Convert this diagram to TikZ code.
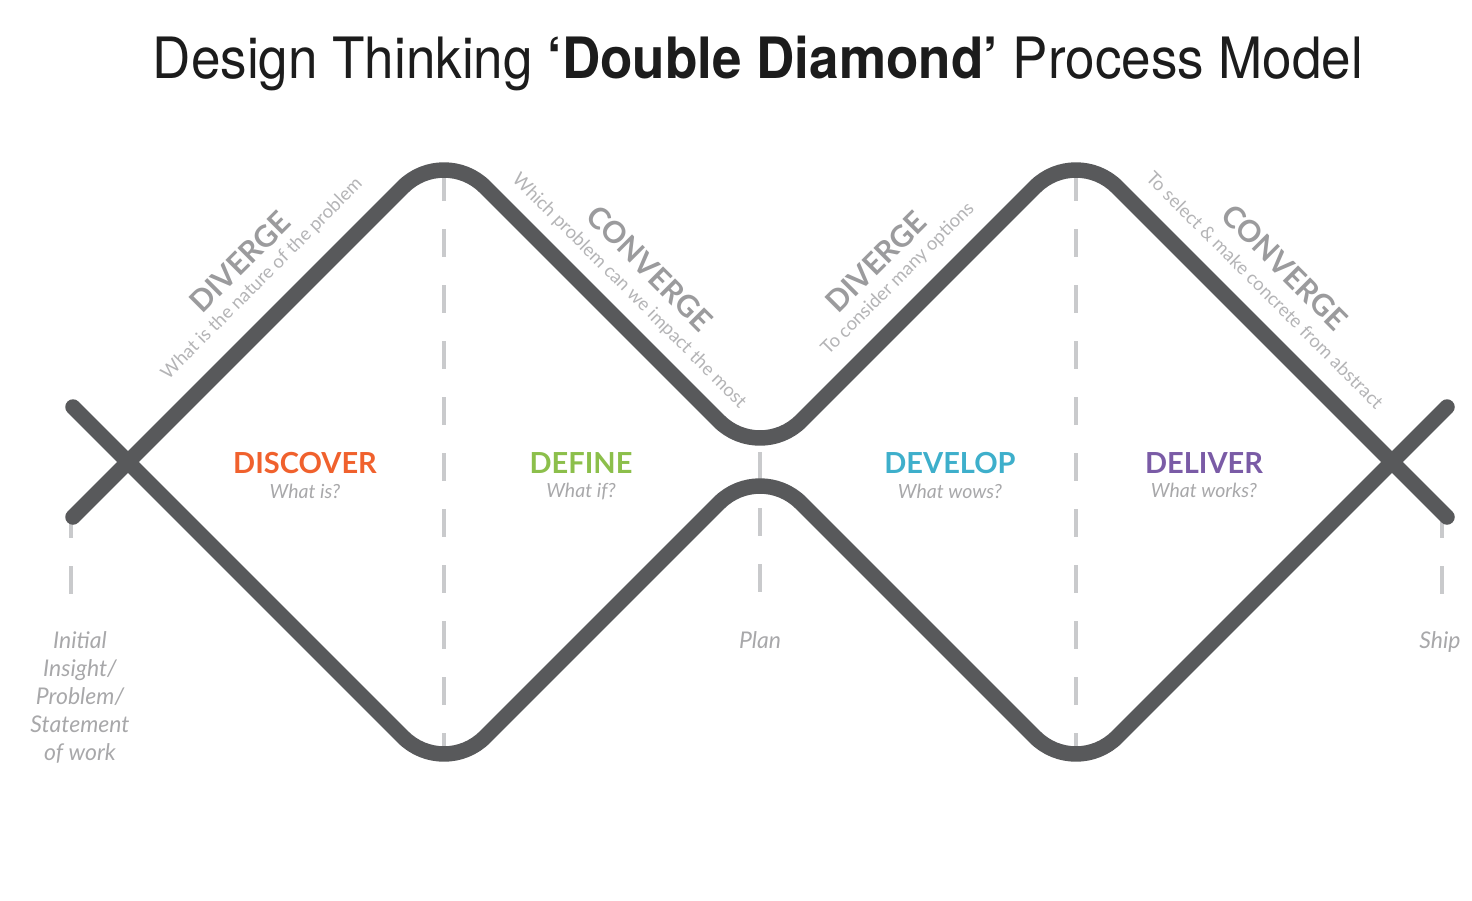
\documentclass[tikz,border=0pt]{standalone}
\usepackage{fontspec}
\setmainfont{TeX Gyre Heros}
\newfontfamily\avfont{Lato}
\usetikzlibrary{positioning}

\definecolor{bandgray}{HTML}{58595B}
\definecolor{guidegray}{HTML}{C9CACC}
\definecolor{headgray}{HTML}{9B9B9D}
\definecolor{subgray}{HTML}{B4B4B6}
\definecolor{askgray}{HTML}{A8A8AA}
\definecolor{titleblack}{HTML}{1C1C1C}
\definecolor{discoverc}{HTML}{F0612D}
\definecolor{definec}{HTML}{8CBF4B}
\definecolor{developc}{HTML}{3EAFCB}
\definecolor{deliverc}{HTML}{7A5BA6}

\begin{document}
\begin{tikzpicture}[x=1pt, y=-1pt,
  band/.style={draw=bandgray, line width=15.5pt, rounded corners=58pt, line cap=round},
  guide/.style={draw=guidegray, line width=4pt, dash pattern=on 28pt off 28pt},
  headtxt/.style={font=\avfont\bfseries\fontsize{30}{30}\selectfont, text=headgray, inner sep=0pt},
  subtxt/.style={font=\avfont\fontsize{18.5}{18.5}\selectfont, text=subgray, inner sep=0pt},
  phase/.style={font=\avfont\bfseries\fontsize{29}{29}\selectfont, inner sep=0pt, anchor=base},
  ask/.style={font=\avfont\itshape\fontsize{19.5}{19.5}\selectfont, text=askgray, inner sep=0pt},
  milestone/.style={font=\avfont\itshape\fontsize{23}{28}\selectfont, text=askgray,
    inner sep=0pt, align=center, anchor=base},
]
  \useasboundingbox (0,0) rectangle (1472,900);

  \node[font=\fontsize{57}{68}\selectfont, text=titleblack, anchor=base, xscale=0.93] (title) at (758,78)
    {Design Thinking \textbf{‘Double Diamond’} Process Model};

  % corners of the two diamonds
  \coordinate (lt) at (73,407);
  \coordinate (lb) at (73,517);
  \coordinate (t1) at (444,146);
  \coordinate (b1) at (444,778);
  \coordinate (mid) at (760,462);
  \coordinate (t2) at (1076,146);
  \coordinate (b2) at (1076,778);
  \coordinate (rt) at (1447,407);
  \coordinate (rb) at (1447,517);

  \draw[guide] ([yshift=-27pt]t1) -- ([yshift=17pt]b1);
  \draw[guide] ([yshift=-27pt]t2) -- ([yshift=17pt]b2);
  \draw[guide] ([xshift=-2pt,yshift=7pt]lb) -- ([xshift=-2pt,yshift=-77pt]lb);
  \draw[guide] ([yshift=10pt]mid) -- ([yshift=-130pt]mid);
  \draw[guide] ([xshift=-5pt,yshift=7pt]rb) -- ([xshift=-5pt,yshift=-77pt]rb);

  \draw[band] (lb) -- (t1) -- (mid) -- (t2) -- (rb);
  \draw[band] (lt) -- (b1) -- (mid) -- (b2) -- (rt);

  \node[headtxt, rotate=45]  (div1)  at (240,262)  {DIVERGE};
  \node[subtxt, rotate=45]   (div1q) at (262,279)  {What is the nature of the problem};
  \node[headtxt, rotate=-45] (con1)  at (650,268)  {CONVERGE};
  \node[subtxt, rotate=-45]  (con1q) at (629,291)  {Which problem can we impact the most};
  \node[headtxt, rotate=45]  (div2)  at (876,262)  {DIVERGE};
  \node[subtxt, rotate=45]   (div2q) at (898,279)  {To consider many options};
  \node[headtxt, rotate=-45] (con2)  at (1285,267) {CONVERGE};
  \node[subtxt, rotate=-45]  (con2q) at (1265,290) {To select \& make concrete from abstract};

  \node[phase, text=discoverc] (discover) at (305,473)  {DISCOVER};
  \node[ask, below=10pt of discover] {What is?};
  \node[phase, text=definec]   (define)   at (581,473)  {DEFINE};
  \node[ask, below=10pt of define] {What if?};
  \node[phase, text=developc]  (develop)  at (950,473)  {DEVELOP};
  \node[ask, below=10pt of develop] {What wows?};
  \node[phase, text=deliverc]  (deliver)  at (1204,473) {DELIVER};
  \node[ask, below=10pt of deliver] {What works?};

  \node[milestone] (start) at (80,760) {Initial\\Insight/\\Problem/\\Statement\\of work};
  \node[milestone] (plan)  at (760,648) {Plan};
  \node[milestone] (ship)  at (1440,648) {Ship};
\end{tikzpicture}
\end{document}
